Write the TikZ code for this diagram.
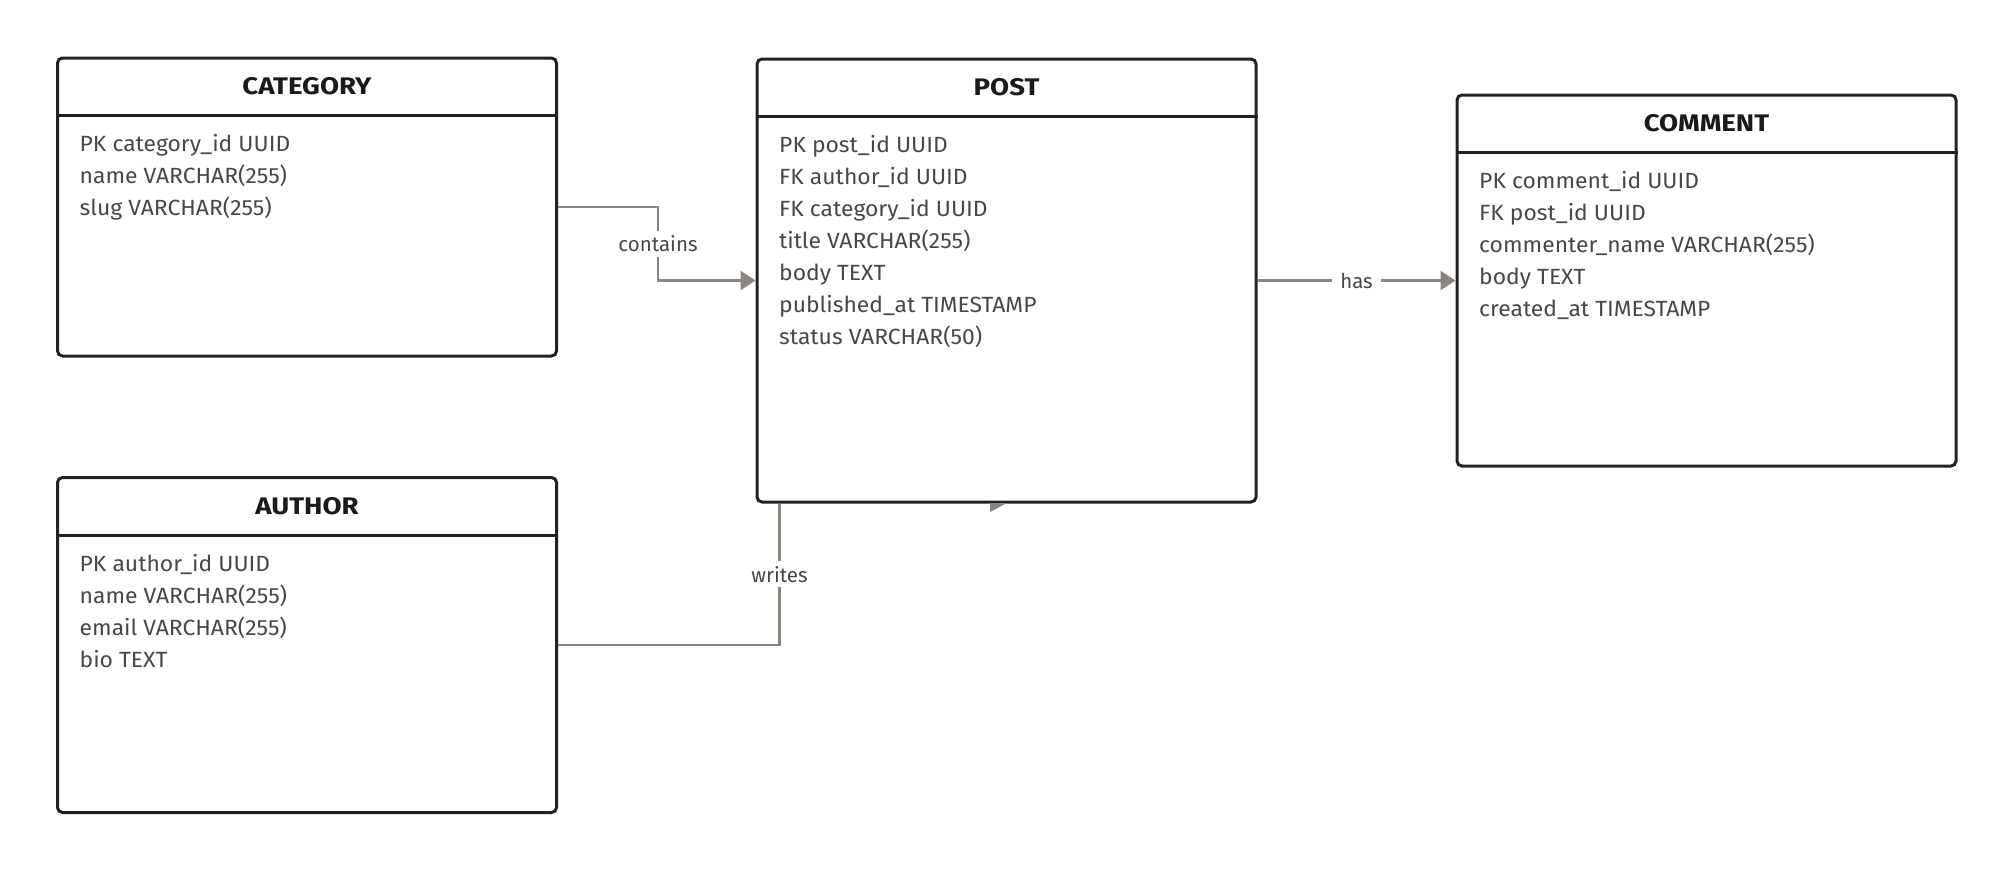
\documentclass[tikz,border=0pt]{standalone}
\usepackage{fontspec}
\setmainfont{Fira Sans}
\newfontfamily\ttlfont{Fira Sans}[FakeStretch=1.15]
\newfontfamily\rowfont{Fira Sans}[FakeStretch=1.04]
\usetikzlibrary{arrows.meta}
\definecolor{boxline}{HTML}{222222}
\definecolor{linkgray}{HTML}{8A867E}
\definecolor{txt}{HTML}{474747}
\definecolor{ttl}{HTML}{1A1A1A}
\tikzset{
  entity/.style={draw=boxline, line width=3pt, rounded corners=5pt, fill=white,
    minimum width=499pt, anchor=north west, inner sep=0pt},
  ttlstyle/.style={anchor=base, text=ttl, font=\fontsize{24}{28}\selectfont\ttlfont\bfseries, inner sep=0pt},
  row/.style={anchor=base west, text=txt, font=\fontsize{22}{26}\selectfont\rowfont, inner sep=0pt},
  link/.style={draw=linkgray, line width=2.5pt},
  arr/.style={-{Triangle[length=15pt,width=19pt]}},
  lbl/.style={fill=white, text=txt, font=\fontsize{20.5}{24}\selectfont, inner xsep=8pt, inner ysep=5pt},
  hdr/.style={draw=boxline, line width=3pt},
}
\begin{document}
\begin{tikzpicture}[x=1pt,y=-1pt]
\useasboundingbox (0,0) rectangle (2012,868);

% boxes
\node[entity, minimum height=298pt] (cat) at (56,56.5) {};
\node[entity, minimum height=335pt] (auth) at (56,476) {};
\node[entity, minimum height=443pt] (post) at (755.5,57.5) {};
\node[entity, minimum height=371pt] (com) at (1455.5,93.5) {};

% header separators
\foreach \b in {cat,auth,post,com}
  \draw[hdr] ([yshift=-59pt]\b.north west) -- ([yshift=-59pt]\b.north east);

% titles
\node[ttlstyle] (catT)  at ([yshift=-38pt]cat.north)  {CATEGORY};
\node[ttlstyle] (authT) at ([yshift=-38pt]auth.north) {AUTHOR};
\node[ttlstyle] (postT) at ([yshift=-38pt]post.north) {POST};
\node[ttlstyle] (comT)  at ([yshift=-38pt]com.north)  {COMMENT};

% rows
\foreach \t [count=\i] in {{PK category\_id UUID},{name VARCHAR(255)},{slug VARCHAR(255)}}
  \node[row] (cat-r\i) at ([xshift=23.5pt,yshift={-95pt-(\i-1)*32pt}]cat.north west) {\t};
\foreach \t [count=\i] in {{PK author\_id UUID},{name VARCHAR(255)},{email VARCHAR(255)},{bio TEXT}}
  \node[row] (auth-r\i) at ([xshift=23.5pt,yshift={-95pt-(\i-1)*32pt}]auth.north west) {\t};
\foreach \t [count=\i] in {{PK post\_id UUID},{FK author\_id UUID},{FK category\_id UUID},{title VARCHAR(255)},{body TEXT},{published\_at TIMESTAMP},{status VARCHAR(50)}}
  \node[row] (post-r\i) at ([xshift=23.5pt,yshift={-95pt-(\i-1)*32pt}]post.north west) {\t};
\foreach \t [count=\i] in {{PK comment\_id UUID},{FK post\_id UUID},{commenter\_name VARCHAR(255)},{body TEXT},{created\_at TIMESTAMP}}
  \node[row] (com-r\i) at ([xshift=23.5pt,yshift={-95pt-(\i-1)*32pt}]com.north west) {\t};

% connectors
\coordinate (cbend) at ([xshift=100pt]cat.east);
\draw[link, arr] (cat.east) -- (cbend) |- node[lbl, pos=0.25] {contains} (post.west);
\draw[link, arr] (post.east) -- node[lbl] {has} (com.west);
\coordinate (wend) at ([xshift=24pt]post.south west);
\draw[link] (auth.east) -| node[lbl, pos=0.75] {writes} (wend);

% stray arrowhead fragment under POST
\fill[linkgray] (990,503) -- (990,512) -- (1007,503) -- cycle;
\end{tikzpicture}
\end{document}
